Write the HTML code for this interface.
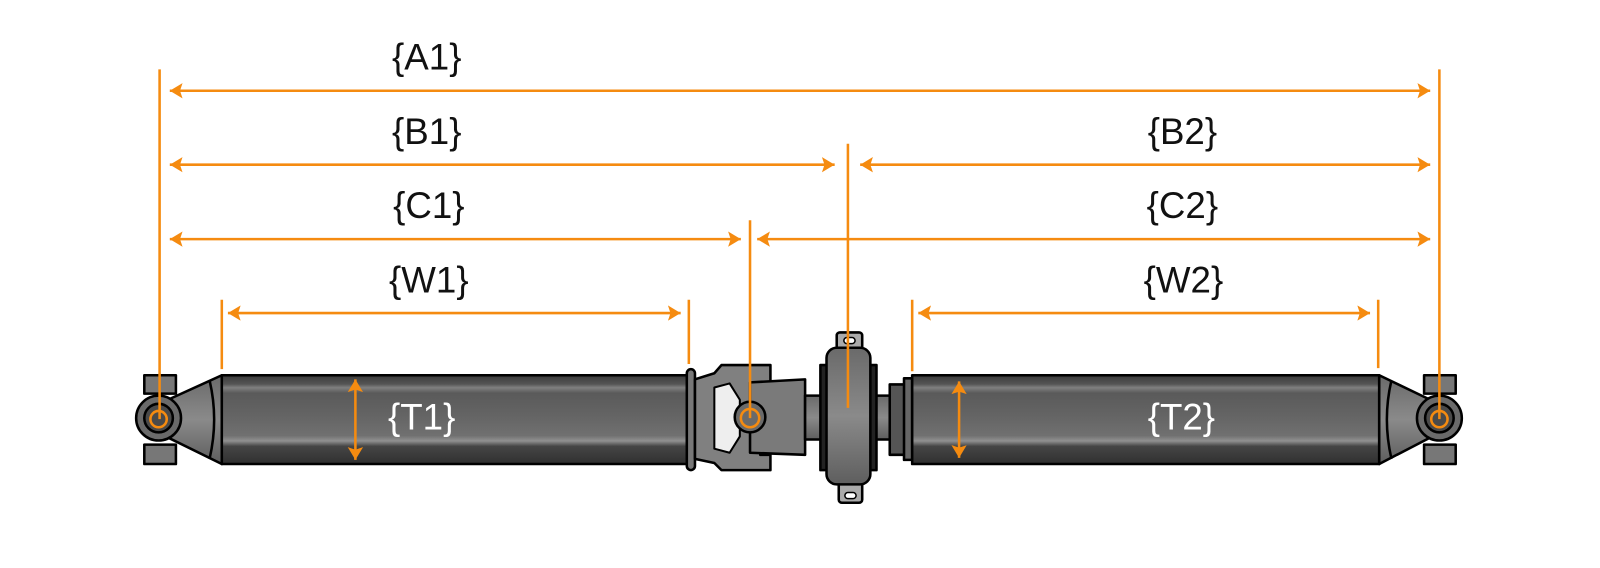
<!DOCTYPE html>
<html><head><meta charset="utf-8"><style>html,body{margin:0;padding:0;background:#fff}svg{display:block}</style></head>
<body>
<svg width="1600" height="568" viewBox="0 0 1568 557" xmlns="http://www.w3.org/2000/svg">
<defs>
<linearGradient id="tube" x1="0" y1="0" x2="0" y2="1">
<stop offset="0" stop-color="#3a3a3a"/><stop offset="0.1" stop-color="#555"/><stop offset="0.14" stop-color="#808080"/><stop offset="0.2" stop-color="#5a5a5a"/><stop offset="0.45" stop-color="#646464"/><stop offset="0.68" stop-color="#707070"/><stop offset="0.74" stop-color="#909090"/><stop offset="0.8" stop-color="#454545"/><stop offset="1" stop-color="#303030"/>
</linearGradient>
<linearGradient id="part" x1="0" y1="0" x2="0" y2="1">
<stop offset="0" stop-color="#6a6a6a"/><stop offset="0.5" stop-color="#8a8a8a"/><stop offset="1" stop-color="#5e5e5e"/>
</linearGradient>
<marker id="ar" viewBox="0 0 10 12" refX="10" refY="6" markerWidth="5" markerHeight="6" orient="auto-start-reverse" markerUnits="strokeWidth"><path d="M0,0 L10,6 L0,12 L2,6 Z" fill="#f58b10"/></marker>
</defs>
<g stroke="#000" stroke-width="2.5" stroke-linejoin="round">
<rect x="141" y="368" width="31" height="18" fill="#777"/>
<rect x="141" y="436" width="31" height="19" fill="#777"/>
<path d="M162,393 L217,368 L217,455 L162,428 Z" fill="url(#part)"/>
<path d="M205,373 Q214,411 205,450" fill="none"/>
<circle cx="155" cy="410" r="22" fill="#6a6a6a"/>
<circle cx="155" cy="410" r="14" fill="#4a4a4a"/>
<rect x="217" y="368" width="458" height="87" fill="url(#tube)"/>
<rect x="673" y="362" width="8" height="99" rx="4" fill="#777"/>
<path d="M681,372 L700,366 L707,358 L755,358 L755,375 L745,375 L745,446 L755,446 L755,461 L707,461 L700,454 L681,450 Z" fill="#808080"/>
<path d="M700,380 L715,376 L725,392 L725,428 L715,444 L700,440 Z" fill="#eee" stroke-width="2"/>
<path d="M735,375 L789,372 L789,446 L735,444 Z" fill="#7a7a7a"/>
<circle cx="735" cy="409" r="15" fill="#6a6a6a"/>
<rect x="789" y="388" width="85" height="43" fill="url(#part)"/>
<rect x="804" y="358" width="55" height="103" fill="#222"/>
<rect x="820" y="326" width="25" height="20" rx="3" fill="#aaa"/>
<rect x="822" y="473" width="23" height="20" rx="3" fill="#aaa"/>
<rect x="827" y="331" width="11" height="6" rx="3" fill="#fff" stroke-width="1.5"/>
<rect x="828" y="483" width="11" height="6" rx="3" fill="#fff" stroke-width="1.5"/>
<rect x="810" y="341" width="43" height="134" rx="10" fill="url(#part)"/>
<rect x="872" y="377" width="15" height="69" fill="#555"/>
<rect x="886" y="371" width="8" height="80" fill="#666"/>
<rect x="894" y="368" width="458" height="87" fill="url(#tube)"/>
<path d="M1352,368 L1404,393 L1404,428 L1352,455 Z" fill="url(#part)"/>
<path d="M1364,373 Q1355,411 1364,450" fill="none"/>
<rect x="1396" y="368" width="31" height="18" fill="#777"/>
<rect x="1396" y="436" width="31" height="19" fill="#777"/>
<circle cx="1411" cy="410" r="22" fill="#6a6a6a"/>
<circle cx="1411" cy="410" r="14" fill="#4a4a4a"/>
</g>
<g fill="none" stroke="#f58b10" stroke-width="2.5">
<circle cx="155" cy="411" r="8"/>
<circle cx="735" cy="410" r="9"/>
<circle cx="1411" cy="411" r="8"/>
<line x1="156" y1="68" x2="156" y2="411"/>
<line x1="1411" y1="68" x2="1411" y2="411"/>
<line x1="831" y1="141" x2="831" y2="400"/>
<line x1="735" y1="216" x2="735" y2="410"/>
<line x1="217" y1="294" x2="217" y2="362"/>
<line x1="675" y1="294" x2="675" y2="357"/>
<line x1="894" y1="294" x2="894" y2="364"/>
<line x1="1351" y1="294" x2="1351" y2="361"/>
<g marker-start="url(#ar)" marker-end="url(#ar)">
<line x1="166" y1="89" x2="1402" y2="89"/>
<line x1="166" y1="161.5" x2="818" y2="161.5"/>
<line x1="843" y1="161.5" x2="1402" y2="161.5"/>
<line x1="166" y1="234.5" x2="726" y2="234.5"/>
<line x1="742" y1="234.5" x2="1402" y2="234.5"/>
<line x1="223" y1="307" x2="667" y2="307"/>
<line x1="900" y1="307" x2="1343" y2="307"/>
<line x1="348" y1="372" x2="348" y2="451"/>
<line x1="940" y1="374" x2="940" y2="449"/>
</g>
</g>
<g font-family="Liberation Sans, sans-serif" font-size="36" text-anchor="middle" fill="#111">
<text x="418" y="68">{A1}</text>
<text x="418" y="141">{B1}</text>
<text x="1159" y="141">{B2}</text>
<text x="420" y="214">{C1}</text>
<text x="1159" y="214">{C2}</text>
<text x="420" y="287">{W1}</text>
<text x="1160" y="287">{W2}</text>
<text x="413" y="421" fill="#fff">{T1}</text>
<text x="1158" y="421" fill="#fff">{T2}</text>
</g>
</svg>
</body></html>
